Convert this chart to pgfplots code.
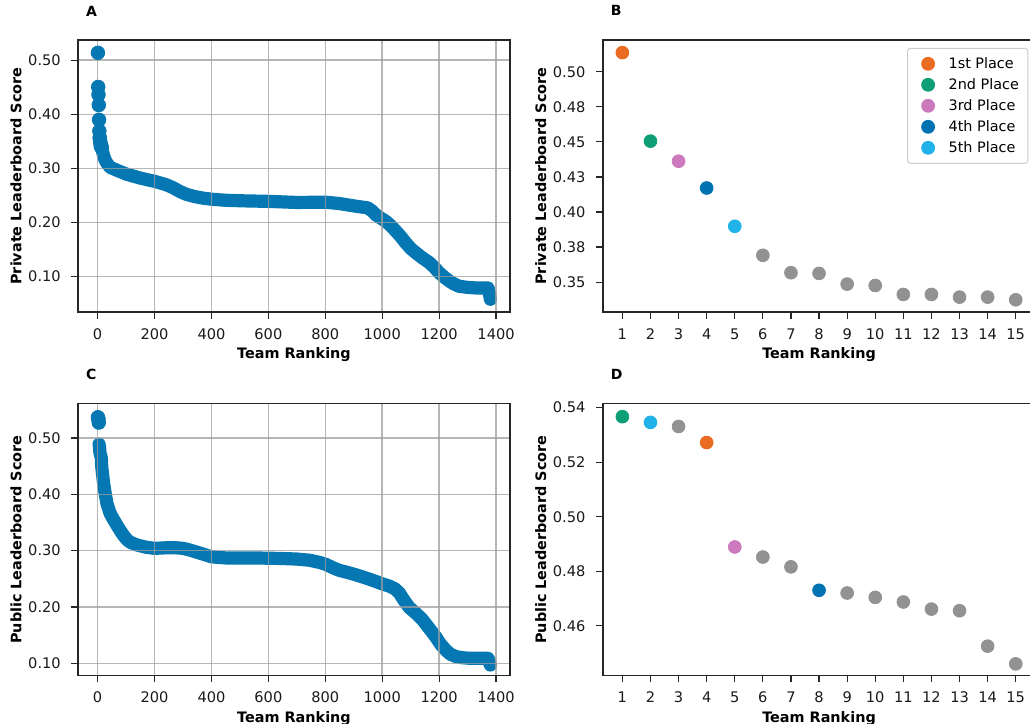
\documentclass[border=0pt]{standalone}
\usepackage{fontspec}
\setmainfont{DejaVu Sans}
\usepackage{pgfplots}
\pgfplotsset{compat=1.18}

\definecolor{mainblue}{HTML}{0577B3}
\definecolor{cfirst}{HTML}{EA6B22}
\definecolor{csecond}{HTML}{0E9F76}
\definecolor{cthird}{HTML}{CC7ABD}
\definecolor{cfourth}{HTML}{0173B2}
\definecolor{cfifth}{HTML}{20B2E8}
\definecolor{cgrey}{HTML}{929292}

\pgfplotsset{
  panel/.style={
    scale only axis, width=216pt, height=136pt,
    anchor=south west,
    axis line style={line width=0.8pt, black!85},
    every tick/.style={line width=0.6pt, black!85},
    major tick length=3.3pt,
    tick align=outside, xtick pos=bottom, ytick pos=left,
    ticklabel style={font=\fontsize{7.3}{8.6}\selectfont, text=black!90},
    xticklabel style={yshift=-1.4pt},
    yticklabel style={xshift=-1.8pt},
    /pgf/number format/assume math mode=true,
    /pgf/number format/1000 sep={},
    scaled ticks=false,
    label style={font=\fontsize{7.2}{8.6}\selectfont\bfseries, text=black},
    xlabel={Team Ranking},
    xlabel style={at={(axis description cs:0.5,0)}, anchor=base, yshift=-23.5pt},
    ylabel style={at={(axis description cs:-0.131,0.5)}, anchor=base},
    title style={at={(axis description cs:0,1)}, anchor=base west, yshift=6pt, xshift=0.5pt, font=\fontsize{7}{8}\selectfont\bfseries},
  },
  wide/.style={
    panel, axis on top,
    xmin=-69, xmax=1449,
    xtick={0,200,...,1400},
    grid=major, grid style={line width=0.75pt, color=black!38, opacity=0.75},
    yticklabel style={/pgf/number format/fixed, /pgf/number format/fixed zerofill, /pgf/number format/precision=2},
  },
  top/.style={
    panel,
    xmin=0.3, xmax=15.7,
    xtick={1,...,15},
  },
  dot/.style={only marks, mark=*, mark size=3.2pt, color=#1},
  band/.style={color=mainblue, line width=6.6pt, line cap=round, line join=round},
}

\begin{document}
\begin{tikzpicture}
\useasboundingbox (0,0) rectangle (515pt,362pt);
\clip (0,0) rectangle (515pt,362pt);

% A: private leaderboard, all teams
\begin{axis}[wide, at={(39pt,206pt)}, title={A},
  ymin=0.0345, ymax=0.5373, ytick={0.1,0.2,0.3,0.4,0.5},
  ylabel={Private Leaderboard Score}]
\addplot[only marks, mark=*, mark size=3.4pt, mainblue] coordinates {
(1,0.5136)(2,0.4505)(3,0.4362)(4,0.4171)(5,0.3898)(6,0.3691)(7,0.3567)(8,0.3562)
(9,0.3486)(10,0.3476)(11,0.3412)(12,0.3412)(13,0.3393)(14,0.3393)(15,0.3374)};
\addplot[band] coordinates {
(15,0.337)(20,0.325)(26,0.316)(32,0.310)(44,0.302)(70,0.296)(103,0.289)(150,0.282)
(200,0.276)(240,0.270)(266,0.264)(290,0.257)(312,0.252)(340,0.248)(370,0.245)
(400,0.243)(450,0.241)(510,0.240)(600,0.239)(700,0.237)(800,0.2375)(849,0.235)
(908,0.230)(949,0.227)(965,0.221)(978,0.214)(995,0.208)(1013,0.202)(1030,0.194)
(1048,0.184)(1065,0.174)(1083,0.162)(1100,0.152)(1118,0.144)(1140,0.135)(1165,0.126)
(1185,0.116)(1200,0.107)(1220,0.098)(1235,0.092)(1250,0.087)(1270,0.082)(1300,0.080)
(1329,0.079)(1350,0.079)(1372,0.079)(1376,0.070)(1379,0.062)(1380,0.058)};
\end{axis}

% B: private leaderboard, top 15
\begin{axis}[top, at={(301.35pt,206pt)}, width=216.35pt, title={B},
  ymin=0.3287, ymax=0.5226,
  ytick={0.35,0.375,0.4,0.425,0.45,0.475,0.5},
  yticklabels={0.35,0.38,0.40,0.43,0.45,0.48,0.50},
  ylabel={Private Leaderboard Score},
  legend cell align=left,
  legend image code/.code={\draw[#1] plot coordinates {(7pt,0pt)}; \path (0pt,-3pt) (14pt,3pt);},
  legend style={at={(1,1)}, anchor=north east, xshift=-3.5pt, yshift=-3.9pt,
    draw=black!20, line width=0.5pt, rounded corners=1.5pt, fill=white,
    inner xsep=3pt, inner ysep=2.5pt, row sep=0pt,
    font=\fontsize{7.2}{8.6}\selectfont,
    nodes={inner sep=1.5pt, text height=6pt, text depth=1.5pt},
    /tikz/every odd column/.append style={column sep=1.5pt}}]
\addplot[dot=cfirst] coordinates {(1,0.5136)};
\addlegendentry{1st Place}
\addplot[dot=csecond] coordinates {(2,0.4505)};
\addlegendentry{2nd Place}
\addplot[dot=cthird] coordinates {(3,0.4362)};
\addlegendentry{3rd Place}
\addplot[dot=cfourth] coordinates {(4,0.4171)};
\addlegendentry{4th Place}
\addplot[dot=cfifth] coordinates {(5,0.3898)};
\addlegendentry{5th Place}
\addplot[dot=cgrey, forget plot] coordinates {
(6,0.3691)(7,0.3567)(8,0.3562)(9,0.3486)(10,0.3476)(11,0.3412)(12,0.3412)
(13,0.3393)(14,0.3393)(15,0.3374)};
\end{axis}

% C: public leaderboard, all teams
\begin{axis}[wide, at={(39pt,24.2pt)}, title={C},
  ymin=0.0782, ymax=0.5609, ytick={0.1,0.2,0.3,0.4,0.5},
  ylabel={Public Leaderboard Score}]
\addplot[only marks, mark=*, mark size=3.4pt, mainblue] coordinates {
(1,0.5367)(2,0.5346)(3,0.5331)(4,0.5272)};
\addplot[band] coordinates {
(5,0.4889)(6,0.4852)(7,0.4816)(8,0.4730)(9,0.4720)(10,0.4704)(11,0.4687)(12,0.4661)
(13,0.4655)(14,0.4525)(15,0.4460)(21,0.419)(27,0.400)(33,0.383)(44,0.366)(56,0.355)
(68,0.345)(80,0.335)(91,0.327)(102,0.320)(114,0.315)(138,0.310)(170,0.306)(200,0.304)
(240,0.305)(277,0.305)(300,0.304)(324,0.301)(350,0.297)(382,0.292)(400,0.289)
(450,0.287)(550,0.287)(650,0.286)(700,0.285)(744,0.283)(780,0.279)(800,0.276)
(825,0.270)(849,0.265)(880,0.261)(908,0.257)(945,0.251)(979,0.245)(1000,0.241)
(1025,0.237)(1045,0.232)(1060,0.225)(1075,0.213)(1095,0.199)(1120,0.188)(1142,0.177)
(1165,0.162)(1188,0.147)(1205,0.134)(1224,0.123)(1240,0.116)(1259,0.112)(1280,0.110)
(1306,0.109)(1340,0.109)(1372,0.109)(1376,0.103)(1380,0.097)};
\end{axis}

% D: public leaderboard, top 15
\begin{axis}[top, at={(301.35pt,24.2pt)}, width=216.35pt, title={D},
  ymin=0.4417, ymax=0.5415,
  ytick={0.46,0.48,0.50,0.52,0.54},
  yticklabel style={/pgf/number format/fixed, /pgf/number format/fixed zerofill, /pgf/number format/precision=2},
  ylabel={Public Leaderboard Score}]
\addplot[dot=cgrey] coordinates {
(3,0.5331)(6,0.4852)(7,0.4816)(9,0.4720)(10,0.4704)(11,0.4687)(12,0.4661)
(13,0.4655)(14,0.4525)(15,0.4460)};
\addplot[dot=csecond] coordinates {(1,0.5367)};
\addplot[dot=cfifth] coordinates {(2,0.5346)};
\addplot[dot=cfirst] coordinates {(4,0.5272)};
\addplot[dot=cthird] coordinates {(5,0.4889)};
\addplot[dot=cfourth] coordinates {(8,0.4730)};
\end{axis}
\end{tikzpicture}
\end{document}
